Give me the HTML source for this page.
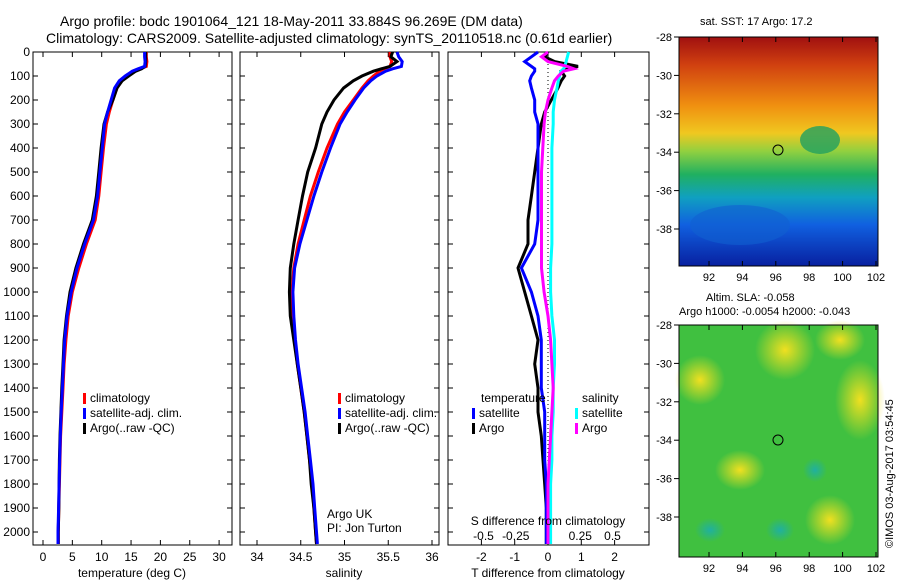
<!DOCTYPE html>
<html><head><meta charset="utf-8"><style>
body{margin:0;background:#fff;}
svg{display:block;font-family:"Liberation Sans",sans-serif;}
text{font-size:12px;fill:#000;}
</style></head><body>
<svg id="c" width="900" height="580">
<defs>
<linearGradient id="sst" x1="0" y1="0" x2="0" y2="1">
<stop offset="0" stop-color="#a01010"/><stop offset="0.12" stop-color="#d04010"/><stop offset="0.3" stop-color="#f09010"/><stop offset="0.42" stop-color="#f0c820"/><stop offset="0.5" stop-color="#90d040"/><stop offset="0.6" stop-color="#20b060"/><stop offset="0.7" stop-color="#10a0c0"/><stop offset="0.82" stop-color="#1060e0"/><stop offset="1" stop-color="#0820a0"/>
</linearGradient>
<radialGradient id="yb"><stop offset="0" stop-color="#f0e020"/><stop offset="1" stop-color="#f0e020" stop-opacity="0"/></radialGradient>
<radialGradient id="cb"><stop offset="0" stop-color="#20b0a0"/><stop offset="1" stop-color="#20b0a0" stop-opacity="0"/></radialGradient>
</defs>
<text x="60" y="26" style="font-size:14px">Argo profile: bodc 1901064_121 18-May-2011 33.884S 96.269E (DM data)</text>
<text x="46" y="43" style="font-size:14px">Climatology: CARS2009. Satellite-adjusted climatology: synTS_20110518.nc (0.61d earlier)</text>
<g id="p1"></g>
<g id="p2"></g>
<g id="p3"></g>
<g>
<rect x="679" y="37" width="199" height="229" fill="url(#sst)"/>
<ellipse cx="820" cy="140" rx="20" ry="14" fill="#20a060" opacity="0.8"/>
<ellipse cx="740" cy="225" rx="50" ry="20" fill="#1060d0" opacity="0.6"/>
<circle cx="778" cy="150" r="5" fill="none" stroke="#000"/>
<text x="700" y="25" style="font-size:11px">sat. SST: 17 Argo: 17.2</text>
</g>
<g>
<rect x="679" y="325" width="199" height="232" fill="#40c040"/>
<ellipse cx="785" cy="350" rx="30" ry="30" fill="url(#yb)"/>
<ellipse cx="700" cy="380" rx="25" ry="25" fill="url(#yb)"/>
<ellipse cx="860" cy="400" rx="25" ry="40" fill="url(#yb)"/>
<ellipse cx="840" cy="340" rx="25" ry="20" fill="url(#yb)"/>
<ellipse cx="740" cy="470" rx="25" ry="20" fill="url(#yb)"/>
<ellipse cx="830" cy="520" rx="25" ry="25" fill="url(#yb)"/>
<ellipse cx="815" cy="470" rx="12" ry="12" fill="url(#cb)"/>
<ellipse cx="710" cy="530" rx="15" ry="12" fill="url(#cb)"/>
<ellipse cx="780" cy="530" rx="14" ry="12" fill="url(#cb)"/>
<circle cx="778" cy="440" r="5" fill="none" stroke="#000"/>
<text x="706" y="301" style="font-size:11px">Altim. SLA: -0.058</text>
<text x="679" y="315" style="font-size:11px">Argo h1000: -0.0054 h2000: -0.043</text>
<text x="893" y="548" transform="rotate(-90 893 548)" style="font-size:11px">©IMOS 03-Aug-2017 03:54:45</text>
</g>
</svg>
<script>
const depths=[0,20,40,60,70,80,100,120,150,200,250,300,400,500,600,700,800,900,1000,1100,1200,1300,1400,1500,1600,1700,1800,1900,2000,2050];
const tClim=[17.6,17.6,17.7,17.6,16.5,15.5,14.3,13.4,12.6,11.9,11.3,10.8,10.3,9.9,9.5,8.9,7.4,6.1,5.0,4.3,3.9,3.6,3.4,3.2,3.0,2.9,2.8,2.7,2.6,2.6];
const tSat=[17.3,17.3,17.4,17.3,16.2,15.2,14.0,13.0,12.2,11.6,11.0,10.5,10.1,9.7,9.3,8.6,7.1,5.8,4.8,4.1,3.7,3.5,3.3,3.1,2.95,2.85,2.75,2.65,2.55,2.55];
const tArgo=[17.5,17.5,17.5,17.4,16.8,15.8,14.6,13.5,12.6,11.9,11.0,10.4,9.9,9.5,9.1,8.4,6.9,5.6,4.6,4.0,3.6,3.4,3.2,3.05,2.9,2.8,2.75,2.7,2.6,2.6];
const sClim=[35.52,35.52,35.54,35.52,35.45,35.4,35.33,35.27,35.2,35.1,35.0,34.92,34.8,34.7,34.61,34.54,34.47,34.42,34.4,34.41,34.43,34.46,34.5,34.54,34.57,34.6,34.63,34.65,34.67,34.68];
const sSat=[35.6,35.62,35.66,35.65,35.55,35.47,35.37,35.3,35.22,35.12,35.03,34.95,34.84,34.74,34.65,34.57,34.49,34.43,34.41,34.42,34.44,34.47,34.51,34.55,34.58,34.61,34.64,34.66,34.68,34.69];
const sArgo=[35.55,35.53,35.6,35.52,35.42,35.33,35.2,35.1,34.99,34.88,34.8,34.74,34.67,34.58,34.52,34.47,34.42,34.38,34.37,34.38,34.42,34.46,34.5,34.54,34.57,34.6,34.62,34.65,34.67,34.68];
const dTSat=[-0.3,-0.5,-0.7,-0.5,-0.4,-0.4,-0.5,-0.55,-0.5,-0.4,-0.4,-0.3,-0.3,-0.3,-0.3,-0.3,-0.4,-0.8,-0.5,-0.3,-0.2,-0.2,-0.2,-0.1,-0.1,-0.1,-0.05,-0.05,-0.05,-0.05];
const dTArgo=[0.0,-0.1,0.2,0.9,0.6,0.4,0.5,0.4,0.3,0.1,-0.1,-0.2,-0.3,-0.4,-0.5,-0.6,-0.6,-0.9,-0.7,-0.5,-0.3,-0.4,-0.3,-0.3,-0.2,-0.15,-0.1,-0.05,-0.05,-0.05];
const dSSat=[0.16,0.15,0.14,0.13,0.12,0.1,0.09,0.08,0.07,0.05,0.04,0.04,0.03,0.03,0.03,0.03,0.03,0.02,0.02,0.03,0.05,0.05,0.04,0.04,0.03,0.03,0.02,0.02,0.02,0.02];
const dSArgo=[0.0,-0.05,0.0,0.15,0.2,0.12,0.08,0.05,0.03,0.0,-0.02,-0.03,-0.04,-0.05,-0.05,-0.05,-0.05,-0.05,-0.03,0.0,0.02,0.03,0.04,0.03,0.02,0.01,0.0,0.0,0.0,0.0];
const depthTicks=[0,100,200,300,400,500,600,700,800,900,1000,1100,1200,1300,1400,1500,1600,1700,1800,1900,2000];
const tTicks=[0,5,10,15,20,25,30];
const sTicks=[34,34.5,35,35.5,36];
const dTTicks=[-2,-1,0,1,2];
const dSTicks=[-0.5,-0.25,0,0.25,0.5];
const latTicks=[-28,-30,-32,-34,-36,-38];
const lonTicks=[92,94,96,98,100,102];
const NS='http://www.w3.org/2000/svg';
function mk(p,tag,a,txt){const e=document.createElementNS(NS,tag);for(const k in a)e.setAttribute(k,a[k]);if(txt!==undefined)e.textContent=txt;p.appendChild(e);return e;}
const yD=d=>52+d*0.24;
function line(g,xs,xf,col,name){const pts=xs.map((v,i)=>xf(v).toFixed(1)+','+yD(depths[i]).toFixed(1)).join(' ');const e=mk(g,'polyline',{points:pts,fill:'none',stroke:col,'stroke-width':3});

}
function frame(g,x0,x1,ticks,xf,lbls,labelY,leftLabels){
mk(g,'rect',{x:x0,y:52,width:x1-x0,height:493,fill:'none',stroke:'#000'});
depthTicks.forEach(d=>{mk(g,'line',{x1:x0,x2:x0+5,y1:yD(d),y2:yD(d),stroke:'#000'});mk(g,'line',{x1:x1,x2:x1-5,y1:yD(d),y2:yD(d),stroke:'#000'});
if(leftLabels){const t=mk(g,'text',{x:x0-3,y:yD(d)+4,'text-anchor':'end'},d);}});
ticks.forEach((v,i)=>{const x=xf(v);mk(g,'line',{x1:x,x2:x,y1:545,y2:540,stroke:'#000'});mk(g,'line',{x1:x,x2:x,y1:52,y2:57,stroke:'#000'});
const t=mk(g,'text',{x:x,y:labelY,'text-anchor':'middle'},lbls?lbls[i]:v);});}
function legend(g,x,y,items){items.forEach((it,i)=>{mk(g,'rect',{x:x,y:y+i*15-9,width:3,height:11,fill:it[0]});const t=mk(g,'text',{x:x+7,y:y+i*15},it[1]);});}
const p1=document.getElementById('p1');const xT=v=>43+v*5.87;
frame(p1,33,232,tTicks,xT,null,561,true);
line(p1,tClim,xT,'#f00','temp-climatology-line');line(p1,tArgo,xT,'#000','temp-argo-line');line(p1,tSat,xT,'#00f','temp-satellite-line');
mk(p1,'text',{x:132,y:577,'text-anchor':'middle'},'temperature (deg C)');
legend(p1,83,402,[['#f00','climatology'],['#00f','satellite-adj. clim.'],['#000','Argo(..raw -QC)']]);
const p2=document.getElementById('p2');const xS=v=>257+(v-34)*87.5;
frame(p2,240,439,sTicks,xS,null,561,false);
line(p2,sClim,xS,'#f00','sal-climatology-line');line(p2,sArgo,xS,'#000','sal-argo-line');line(p2,sSat,xS,'#00f','sal-satellite-line');
mk(p2,'text',{x:344,y:577,'text-anchor':'middle'},'salinity');
legend(p2,338,402,[['#f00','climatology'],['#00f','satellite-adj. clim.'],['#000','Argo(..raw -QC)']]);
mk(p2,'text',{x:327,y:518},'Argo UK');mk(p2,'text',{x:327,y:532},'PI: Jon Turton');
const p3=document.getElementById('p3');const xDT=v=>548+v*33.3;const xDS=v=>548+v*129;
frame(p3,448,649,dTTicks,xDT,null,561,false);
dSTicks.forEach(v=>{const t=mk(p3,'text',{x:xDS(v),y:540,'text-anchor':'middle'},v);});
mk(p3,'line',{x1:548,x2:548,y1:52,y2:545,stroke:'#000','stroke-dasharray':'1,3'});
line(p3,dTArgo,xDT,'#000','dT-argo-line');line(p3,dTSat,xDT,'#00f','dT-satellite-line');line(p3,dSSat,xDS,'#0ff','dS-satellite-line');line(p3,dSArgo,xDS,'#f0f','dS-argo-line');
mk(p3,'text',{x:548,y:577,'text-anchor':'middle'},'T difference from climatology');
mk(p3,'text',{x:548,y:525,'text-anchor':'middle'},'S difference from climatology');
mk(p3,'text',{x:481,y:402},'temperature');mk(p3,'text',{x:582,y:402},'salinity');
legend(p3,472,417,[['#00f','satellite'],['#000','Argo']]);
legend(p3,575,417,[['#0ff','satellite'],['#f0f','Argo']]);
const svg=document.getElementById('c');
function mapAxes(y0,h){const g=mk(svg,'g',{});


mk(g,'rect',{x:679,y:y0,width:199,height:h,fill:'none',stroke:'#000'});
latTicks.forEach(l=>{const y=y0+(-28-l)*19.2;mk(g,'line',{x1:679,x2:674,y1:y,y2:y,stroke:'#000'});mk(g,'text',{x:672,y:y+4,'text-anchor':'end',style:'font-size:11px'},l);});
lonTicks.forEach(l=>{const x=709+(l-92)*16.7;mk(g,'line',{x1:x,x2:x,y1:y0+h,y2:y0+h-5,stroke:'#000'});mk(g,'line',{x1:x,x2:x,y1:y0,y2:y0+5,stroke:'#000'});mk(g,'text',{x:x,y:y0+h+15,'text-anchor':'middle',style:'font-size:11px'},l);});}
mapAxes(37,229);mapAxes(325,232);
</script>
</body></html>
